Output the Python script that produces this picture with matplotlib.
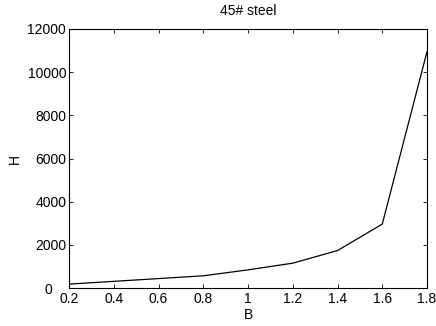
import matplotlib
matplotlib.use("Agg")
import matplotlib.pyplot as plt
import matplotlib.transforms as mtransforms

plt.rcParams['font.family'] = ['Liberation Sans', 'DejaVu Sans']
plt.rcParams['font.size'] = 10

# B-H curve of 45# steel
B = [0.2, 0.8, 1.0, 1.2, 1.4, 1.6, 1.8]
H = [180, 565, 840, 1150, 1735, 2960, 10950]

fig = plt.figure(figsize=(4.36, 3.26), dpi=100)
ax = fig.add_axes([69 / 436, 1 - 288 / 326, (427 - 69) / 436, (288 - 29) / 326])

ax.plot(B, H, color='black', linewidth=0.9)
ax.set_xlim(0.2, 1.8)
ax.set_ylim(0, 12000)
ax.set_xticks([0.2, 0.4, 0.6, 0.8, 1.0, 1.2, 1.4, 1.6, 1.8])
ax.set_xticklabels(['0.2', '0.4', '0.6', '0.8', '1', '1.2', '1.4', '1.6', '1.8'])
ax.set_yticks(range(0, 12001, 2000))
ax.tick_params(direction='in', top=True, right=True, length=3, width=0.6)
ax.tick_params(axis='x', pad=3)
ax.tick_params(axis='y', pad=2)
for s in ax.spines.values():
    s.set_linewidth(0.8)

# the "0" on the y axis sits a bit left of the others, clear of "0.2"
lab0 = ax.get_yticklabels()[0]
lab0.set_transform(lab0.get_transform() + mtransforms.ScaledTranslation(-14 / 100, 0, fig.dpi_scale_trans))

ax.set_title('45# steel', fontsize=10, pad=10)
ax.set_xlabel('B', labelpad=1)
ax.set_ylabel('H', labelpad=4)

fig.savefig('out.png', dpi=100)
